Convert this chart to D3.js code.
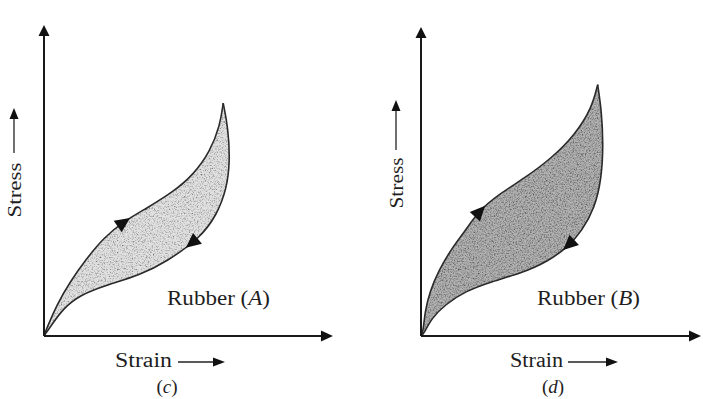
<!DOCTYPE html>
<html>
<head>
<meta charset="utf-8">
<script src="https://cdn.jsdelivr.net/npm/d3@7"></script>
<style>
  body { margin: 0; background: #fff; }
  svg { display: block; }
  text { font-family: "Liberation Serif", "Times New Roman", serif; fill: #1e1e1e; }
</style>
</head>
<body>
<svg id="chart" width="703" height="399"></svg>
<script>
// curves: [strain, stress] in % of the plotting frame
var loadA = [[0,0],[1,2.6],[4.5,10.3],[9.3,18.1],[15.3,25.9],[21.2,32.6],[28.3,38.1],
  [36.7,42.6],[46.2,48.1],[53.3,53.7],[59.3,61.4],[62.9,70.3],[64,77.6]];
var unloadA = [[64,77.6],[65.8,69.2],[66.4,58.1],[65.3,49.2],[61.7,40.3],[55.7,32.6],
  [43.8,24.8],[34.3,20.3],[22.4,17],[12.9,13.7],[6.9,9.2],[2.75,3.7],[0,0]];
var loadB = [[0,0],[0.8,1.6],[1.4,8.2],[3.2,14.9],[6.2,21.6],[11,29.3],[15.7,34.9],
  [20.5,41.6],[27.6,47.1],[37.1,52.7],[46.7,59.3],[55,67.1],[61,76],[63.1,83.8]];
var unloadB = [[63.1,83.8],[64.5,74.9],[65.1,63.8],[64.5,52.7],[62.1,42.7],[57.4,34.9],
  [52.6,29.9],[45.5,24.9],[36,21],[25.3,18.2],[15.7,14.9],[8.6,10.4],[3.8,6],[0.8,0.4],[0,0]];

// where the direction arrows sit on each curve
var arrowsA = [[28.3,38.5],[53,30.3]];
var arrowsB = [[21,42],[52.6,30.2]];

// axis ends (same units)
var axisEndA = [103.2, 103.7];
var axisEndB = [100, 103];

var materials = ["A", "B"];
var captions = ["c", "d"];

var svg = d3.select("#chart");
var defs = svg.append("defs");

function grain(id, k, b) {
  var f = defs.append("filter").attr("id", id)
    .attr("x", 0).attr("y", 0).attr("width", 1).attr("height", 1);
  f.append("feTurbulence").attr("type", "fractalNoise")
    .attr("baseFrequency", 0.75).attr("numOctaves", 2).attr("seed", 7).attr("result", "n");
  f.append("feColorMatrix").attr("in", "n").attr("type", "matrix")
    .attr("values", "0 0 0 0 0.1  0 0 0 0 0.1  0 0 0 0 0.1  " + k + " 0 0 0 " + b)
    .attr("result", "dots");
  f.append("feComposite").attr("in", "dots").attr("in2", "SourceGraphic")
    .attr("operator", "in").attr("result", "clipped");
  var m = f.append("feMerge");
  m.append("feMergeNode").attr("in", "SourceGraphic");
  m.append("feMergeNode").attr("in", "clipped");
}
grain("grainA", 2.2, -1.0);
grain("grainB", 2.4, -0.95);

var panels = [
  { load: loadA, unload: unloadA, arrows: arrowsA, end: axisEndA, ox: 44, oy: 336,
    fill: "#e2e2e2", filter: "grainA", name: materials[0], cap: captions[0],
    stress: { x: 15, y: 190, w: 55, a0: 153, a1: 108 },
    strain: { x: 115, w: 57, a0: 178, a1: 225 },
    rubber: { x: 167, w: 103 }, capX: 167 },
  { load: loadB, unload: unloadB, arrows: arrowsB, end: axisEndB, ox: 421, oy: 336,
    fill: "#b4b4b4", filter: "grainB", name: materials[1], cap: captions[1],
    stress: { x: 397, y: 183, w: 51, a0: 150, a1: 100 },
    strain: { x: 510, w: 53, a0: 568, a1: 618 },
    rubber: { x: 537, w: 103 }, capX: 553 }
];

function head(g, x, y, ang, len, half) {
  g.append("path")
    .attr("d", "M0,0L" + (-len) + "," + (-half) + "L" + (-len) + "," + half + "Z")
    .attr("transform", "translate(" + x + "," + y + ") rotate(" + ang + ")")
    .attr("fill", "#111");
}

panels.forEach(function(p) {
  var x = d3.scaleLinear().domain([0, 100]).range([p.ox, p.ox + 280]);
  var y = d3.scaleLinear().domain([0, 100]).range([p.oy, p.oy - 300]);
  var line = d3.line().x(function(d) { return x(d[0]); }).y(function(d) { return y(d[1]); })
    .curve(d3.curveBasis);
  var g = svg.append("g");

  // shaded loop
  var loop = line(p.load) + line(p.unload).replace(/^M/, "L") + "Z";
  g.append("path").attr("d", loop).attr("fill", p.fill).attr("filter", "url(#" + p.filter + ")");

  var lp = g.append("path").attr("d", line(p.load)).attr("fill", "none")
    .attr("stroke", "#2a2a2a").attr("stroke-width", 1.6);
  var up = g.append("path").attr("d", line(p.unload)).attr("fill", "none")
    .attr("stroke", "#2a2a2a").attr("stroke-width", 1.6);

  // arrowheads along the curves
  [lp, up].forEach(function(path, i) {
    var node = path.node(), total = node.getTotalLength();
    var tx = x(p.arrows[i][0]), ty = y(p.arrows[i][1]);
    var best = 0, bd = Infinity;
    for (var l = 0; l <= total; l += 0.5) {
      var pt = node.getPointAtLength(l);
      var dd = (pt.x - tx) * (pt.x - tx) + (pt.y - ty) * (pt.y - ty);
      if (dd < bd) { bd = dd; best = l; }
    }
    var a = node.getPointAtLength(Math.max(0, best - 2));
    var b = node.getPointAtLength(Math.min(total, best + 2));
    var c = node.getPointAtLength(best);
    var ang = Math.atan2(b.y - a.y, b.x - a.x) * 180 / Math.PI;
    var rad = ang * Math.PI / 180;
    head(g, c.x + 7 * Math.cos(rad), c.y + 7 * Math.sin(rad), ang, 15, 7);
  });

  // axes
  g.append("line").attr("x1", x(0)).attr("y1", y(0)).attr("x2", x(0)).attr("y2", y(p.end[1]) + 6)
    .attr("stroke", "#1a1a1a").attr("stroke-width", 2);
  head(g, x(0), y(p.end[1]), -90, 11, 5.5);
  g.append("line").attr("x1", x(0)).attr("y1", y(0)).attr("x2", x(p.end[0]) - 6).attr("y2", y(0))
    .attr("stroke", "#1a1a1a").attr("stroke-width", 2);
  head(g, x(p.end[0]), y(0), 0, 12, 5.5);

  // Stress label (rotated) with arrow
  g.append("text").attr("transform", "translate(" + (p.stress.x + 6) + "," + p.stress.y + ") rotate(-90)")
    .attr("text-anchor", "middle").attr("font-size", 19)
    .attr("textLength", p.stress.w).attr("lengthAdjust", "spacingAndGlyphs").text("Stress");
  g.append("line").attr("x1", p.stress.x - 1).attr("x2", p.stress.x - 1)
    .attr("y1", p.stress.a0).attr("y2", p.stress.a1 + 8).attr("stroke", "#222").attr("stroke-width", 1.3);
  head(g, p.stress.x - 1, p.stress.a1, -90, 11, 4.5);

  // Strain label with arrow
  g.append("text").attr("x", p.strain.x).attr("y", 367).attr("font-size", 20)
    .attr("textLength", p.strain.w).attr("lengthAdjust", "spacingAndGlyphs").text("Strain");
  g.append("line").attr("x1", p.strain.a0).attr("x2", p.strain.a1 - 8)
    .attr("y1", 362).attr("y2", 362).attr("stroke", "#222").attr("stroke-width", 1.3);
  head(g, p.strain.a1, 362, 0, 12, 4.5);

  // material label
  var t = g.append("text").attr("x", p.rubber.x).attr("y", 305).attr("font-size", 20)
    .attr("textLength", p.rubber.w).attr("lengthAdjust", "spacingAndGlyphs");
  t.append("tspan").text("Rubber (");
  t.append("tspan").attr("font-style", "italic").text(p.name);
  t.append("tspan").text(")");

  // panel caption
  var cp = g.append("text").attr("x", p.capX).attr("y", 393).attr("text-anchor", "middle").attr("font-size", 19);
  cp.append("tspan").text("(");
  cp.append("tspan").attr("font-style", "italic").text(p.cap);
  cp.append("tspan").text(")");
});
</script>
</body>
</html>
